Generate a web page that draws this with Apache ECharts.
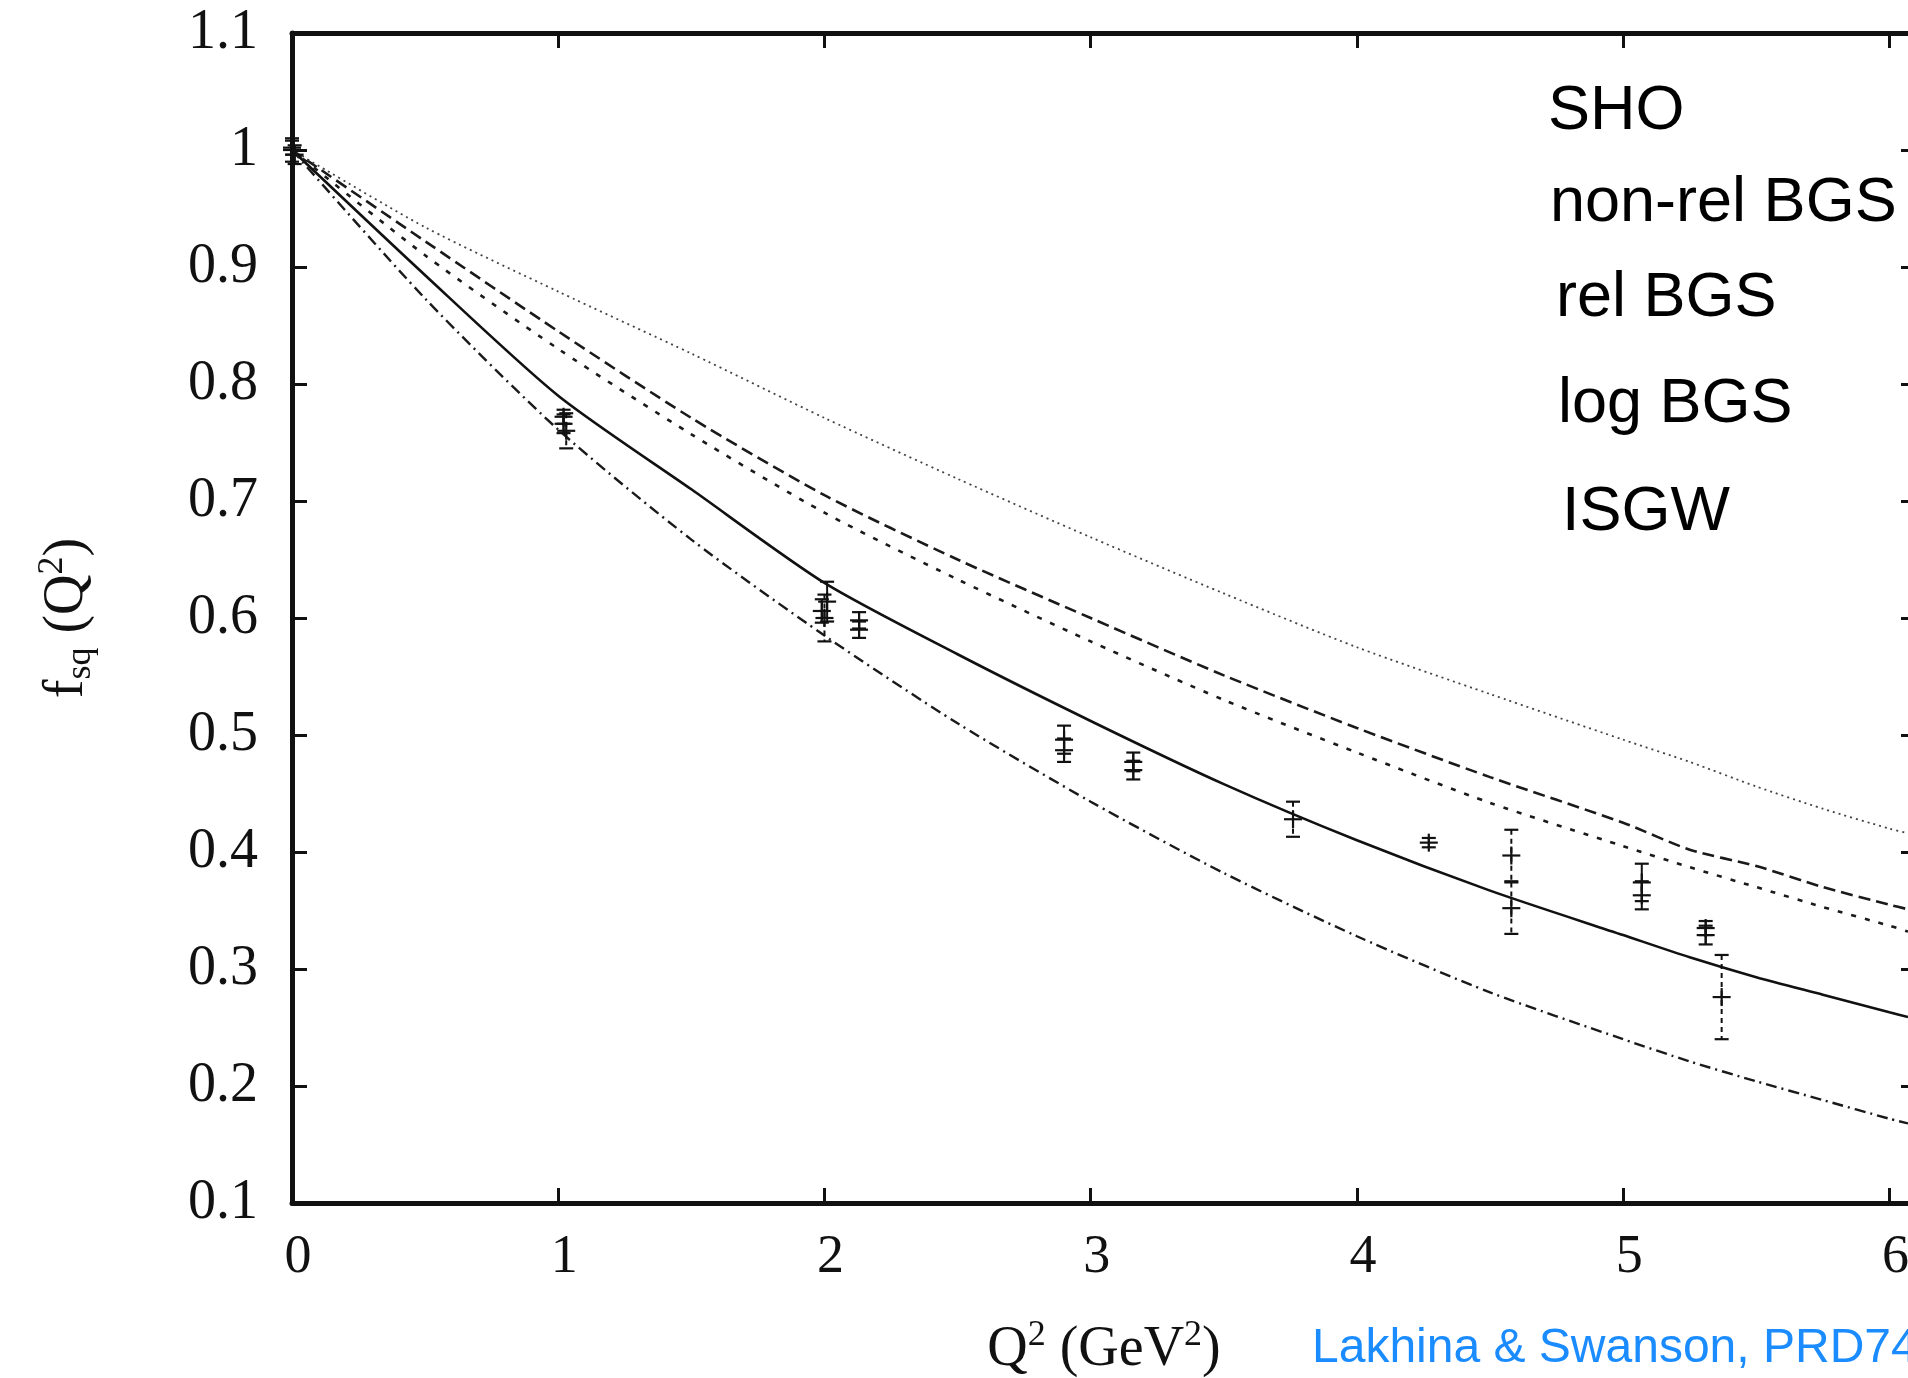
<!DOCTYPE html>
<html>
<head>
<meta charset="utf-8">
<script src="https://cdn.jsdelivr.net/npm/echarts@6/dist/echarts.min.js"></script>
<style>
html,body{margin:0;padding:0;background:#fff;}
#chart{width:1908px;height:1378px;}
</style>
</head>
<body>
<div id="chart"></div>
<script>
// ---- data ----
const seriesNames = ['SHO', 'non-rel BGS', 'rel BGS', 'log BGS', 'ISGW'];
const q2 = [0, 0.5, 1, 1.5, 2, 2.5, 3, 3.5, 4, 4.5, 5, 5.25, 5.5, 5.75, 6, 6.07];
const shoVals    = [1.0, 0.893, 0.790, 0.710, 0.630, 0.569, 0.512, 0.458, 0.410, 0.367, 0.329, 0.310, 0.293, 0.278, 0.263, 0.259];
const nonRelVals = [1.0, 0.922, 0.845, 0.771, 0.705, 0.650, 0.600, 0.551, 0.506, 0.464, 0.425, 0.402, 0.388, 0.370, 0.355, 0.351];
const relVals    = [1.0, 0.910, 0.830, 0.757, 0.690, 0.633, 0.580, 0.530, 0.485, 0.442, 0.405, 0.387, 0.370, 0.353, 0.337, 0.332];
const logVals    = [1.0, 0.934, 0.879, 0.826, 0.771, 0.719, 0.669, 0.621, 0.575, 0.535, 0.496, 0.477, 0.456, 0.437, 0.420, 0.416];
const isgwVals   = [1.0, 0.873, 0.761, 0.667, 0.585, 0.510, 0.443, 0.382, 0.328, 0.280, 0.240, 0.221, 0.204, 0.188, 0.172, 0.168];

// lattice points: [Q2, f, error]
const latticeSolid = [
  [0.00, 1.002, 0.006], [0.01, 0.996, 0.008],
  [1.02, 0.772, 0.006], [1.02, 0.766, 0.008],
  [1.99, 0.606, 0.010], [2.01, 0.614, 0.017],
  [2.13, 0.598, 0.007], [2.13, 0.590, 0.007],
  [2.90, 0.496, 0.012], [2.90, 0.487, 0.010],
  [3.16, 0.477, 0.008], [3.16, 0.470, 0.008],
  [4.27, 0.408, 0.004],
  [5.07, 0.374, 0.016], [5.07, 0.363, 0.012],
  [5.31, 0.335, 0.006], [5.31, 0.329, 0.008]
];
const latticeDashed = [
  [0.00, 1.000, 0.010],
  [1.03, 0.760, 0.015],
  [2.00, 0.600, 0.020],
  [3.76, 0.428, 0.015],
  [4.58, 0.397, 0.022], [4.58, 0.352, 0.022],
  [5.37, 0.276, 0.036]
];
const creditText = 'Lakhina & Swanson, PRD74';

// ---- chart ----
const chart = echarts.init(document.getElementById('chart'), null, {renderer: 'canvas'});
const serif = '"Liberation Serif", "DejaVu Serif", serif';
const sans = '"Liberation Sans", Arial, sans-serif';
const ink = '#111';
const curves = [shoVals, nonRelVals, relVals, logVals, isgwVals];
const dashes = ['solid', [12, 6], [5, 9], [2, 4], [11, 5, 2, 5]];
const widths = [2.6, 2.6, 2.6, 1.8, 2.4];
const colors = ['#111', '#1a1a1a', '#1a1a1a', '#444', '#1a1a1a'];

function errRender(dashed) {
  return function (params, api) {
    const x = api.value(0), y = api.value(1), e = api.value(2);
    const c = api.coord([x, y]), t = api.coord([x, y + e]), b = api.coord([x, y - e]);
    const cap = 7, arm = 9;
    const barStyle = dashed ? {stroke: ink, lineWidth: 2, lineDash: [5, 4]} : {stroke: ink, lineWidth: 2};
    const st = {stroke: ink, lineWidth: 2.2};
    return {
      type: 'group',
      children: [
        {type: 'line', shape: {x1: c[0], y1: t[1], x2: c[0], y2: b[1]}, style: barStyle},
        {type: 'line', shape: {x1: c[0] - cap, y1: t[1], x2: c[0] + cap, y2: t[1]}, style: st},
        {type: 'line', shape: {x1: c[0] - cap, y1: b[1], x2: c[0] + cap, y2: b[1]}, style: st},
        {type: 'line', shape: {x1: c[0] - arm, y1: c[1], x2: c[0] + arm, y2: c[1]}, style: st},
        {type: 'line', shape: {x1: c[0], y1: c[1] - arm, x2: c[0], y2: c[1] + arm}, style: st}
      ]
    };
  };
}

const axisLine = {show: true, onZero: false, lineStyle: {color: ink, width: 5}};
const axisTick = {show: true, inside: true, length: 15, lineStyle: {color: ink, width: 3}};
const richName = {
  m: {fontFamily: serif, fontSize: 56, lineHeight: 64, color: ink},
  s: {fontFamily: serif, fontSize: 36, lineHeight: 30, verticalAlign: 'top', color: ink},
  b: {fontFamily: serif, fontSize: 36, lineHeight: 30, verticalAlign: 'bottom', color: ink}
};

const series = curves.map((vals, i) => ({
  name: seriesNames[i],
  type: 'line',
  data: q2.map((x, k) => [x, vals[k]]),
  showSymbol: false,
  smooth: 0.25,
  lineStyle: {color: colors[i], width: widths[i], type: dashes[i]},
  z: 3
}));
series.push({
  name: 'lattice', type: 'custom', renderItem: errRender(false),
  dimensions: ['x', 'y', 'err'], encode: {x: 0, y: 1},
  data: latticeSolid, z: 5
});
series.push({
  name: 'lattice2', type: 'custom', renderItem: errRender(true),
  dimensions: ['x', 'y', 'err'], encode: {x: 0, y: 1},
  data: latticeDashed, z: 5
});

const legendTops = [112, 204, 299, 405, 513];
const legendLefts = [1548, 1550, 1556, 1558, 1562];
const graphics = seriesNames.map((n, i) => ({
  type: 'text', x: legendLefts[i], y: legendTops[i],
  style: {text: n, font: '63px ' + sans, fill: '#000', verticalAlign: 'middle', align: 'left'}
}));
graphics.push({
  type: 'text', x: 1312, y: 1349,
  style: {text: creditText, font: '48px ' + sans, fill: '#1a8cff', verticalAlign: 'middle', align: 'left'}
});

chart.setOption({
  backgroundColor: '#fff',
  animation: false,
  grid: {left: 292, top: 33, right: -8, bottom: 175, containLabel: false, outerBoundsMode: 'none', show: false},
  xAxis: [
    {
      type: 'value', min: 0, max: 6.1, interval: 1, position: 'bottom',
      axisLine, axisTick, splitLine: {show: false},
      axisLabel: {
        formatter: v => (Math.abs(v - Math.round(v)) < 1e-9 ? String(Math.round(v)) : ''),
        fontFamily: serif, fontSize: 54, color: ink, margin: 28, padding: [0, 0, 0, 12]
      },
      name: '{m|Q}{s|2}{m| (GeV}{s|2}{m|)}',
      nameLocation: 'middle', nameGap: 115,
      nameTextStyle: {fontFamily: serif, fontSize: 56, color: ink, rich: richName}
    },
    {
      type: 'value', min: 0, max: 6.1, interval: 1, position: 'top',
      axisLine, axisTick, splitLine: {show: false}, axisLabel: {show: false}
    }
  ],
  yAxis: [
    {
      type: 'value', min: 0.1, max: 1.1, interval: 0.1, position: 'left',
      axisLine, axisTick, splitLine: {show: false},
      axisLabel: {fontFamily: serif, fontSize: 56, color: ink, margin: 34},
      name: '{m|f}{b|sq}{m| (Q}{s|2}{m|)}',
      nameLocation: 'middle', nameGap: 193, nameRotate: 90,
      nameTextStyle: {fontFamily: serif, fontSize: 56, color: ink, rich: richName}
    },
    {
      type: 'value', min: 0.1, max: 1.1, interval: 0.1, position: 'right',
      axisLine, axisTick, splitLine: {show: false}, axisLabel: {show: false}
    }
  ],
  series,
  graphic: graphics
});
</script>
</body>
</html>
